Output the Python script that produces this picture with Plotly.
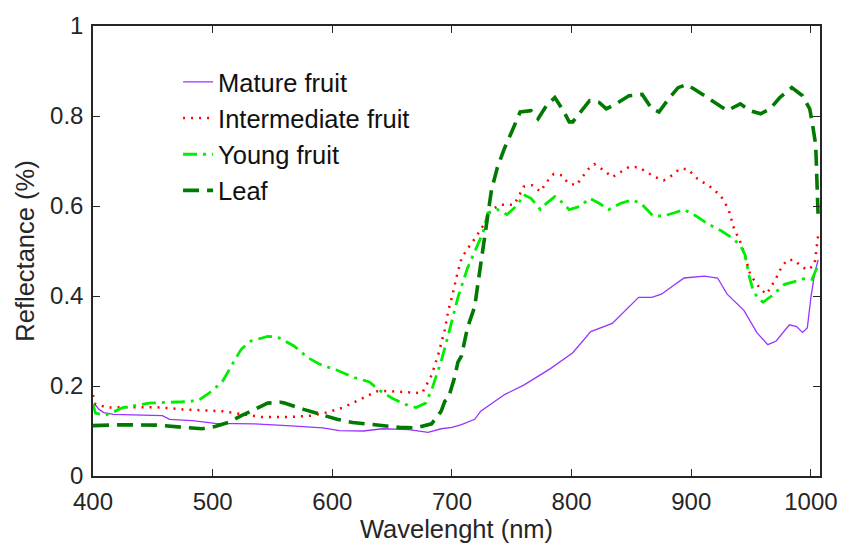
import plotly.graph_objects as go

# ---------------- data ----------------
mature_wl = [400, 402, 405, 409, 417, 440, 458, 464, 483, 502, 535, 562, 592, 606, 626,
             642, 664, 680, 691, 700, 708, 719, 724, 744, 760, 782, 798, 801, 816, 834,
             856, 867, 875, 894, 911, 922, 930, 944, 955, 964, 971, 982, 988, 993, 997,
             1000, 1003, 1006]
mature_val = [0.150, 0.158, 0.148, 0.141, 0.137, 0.135, 0.134, 0.126, 0.123, 0.117, 0.116, 0.112, 0.107, 0.101, 0.100,
              0.105, 0.103, 0.097, 0.105, 0.108, 0.114, 0.126, 0.144, 0.181, 0.202, 0.238, 0.267, 0.274, 0.321, 0.339,
              0.397, 0.397, 0.404, 0.440, 0.444, 0.440, 0.404, 0.368, 0.318, 0.292, 0.300, 0.336, 0.332, 0.319, 0.329,
              0.397, 0.448, 0.480]

inter_wl = [400, 402, 412, 425, 453, 475, 508, 527, 541, 563,
            582, 595, 609, 623, 637, 645, 661, 675, 678, 683,
            689, 694, 697, 700, 704, 708, 713, 719, 726, 733,
            741, 752, 760, 767, 774, 779, 785, 792, 797, 804,
            808, 814, 819, 827, 834, 841, 848, 856, 863, 870,
            877, 884, 890, 897, 905, 911, 918, 925, 929, 932,
            934, 936, 940, 943, 947, 949, 952, 958, 963, 967,
            971, 975, 980, 986, 992, 997, 1003, 1006]
inter_val = [0.180, 0.160, 0.152, 0.153, 0.153, 0.148, 0.144, 0.137, 0.131, 0.131,
             0.134, 0.141, 0.152, 0.170, 0.188, 0.189, 0.186, 0.184, 0.199, 0.224,
             0.274, 0.325, 0.368, 0.397, 0.444, 0.484, 0.505, 0.527, 0.556, 0.592,
             0.603, 0.603, 0.643, 0.646, 0.632, 0.653, 0.671, 0.668, 0.651, 0.646,
             0.661, 0.682, 0.693, 0.679, 0.664, 0.675, 0.687, 0.686, 0.675, 0.664,
             0.657, 0.668, 0.682, 0.682, 0.661, 0.650, 0.639, 0.621, 0.603, 0.585,
             0.565, 0.547, 0.527, 0.505, 0.469, 0.451, 0.437, 0.415, 0.404, 0.422,
             0.440, 0.462, 0.480, 0.480, 0.466, 0.458, 0.469, 0.534]

young_wl = [400, 402, 410, 416, 425, 447, 475, 488, 497, 508,
            519, 524, 532, 546, 554, 568, 579, 589, 604, 617,
            631, 639, 650, 661, 670, 678, 683, 689, 691, 697,
            705, 713, 719, 726, 730, 738, 746, 755, 760, 766,
            774, 779, 786, 793, 798, 807, 815, 823, 831, 841,
            851, 859, 868, 877, 886, 894, 904, 914, 925, 933,
            941, 945, 948, 951, 955, 960, 967, 973, 978, 988,
            996, 1001, 1006]
young_val = [0.160, 0.140, 0.135, 0.141, 0.152, 0.162, 0.165, 0.168, 0.184, 0.209,
             0.260, 0.282, 0.300, 0.310, 0.309, 0.289, 0.264, 0.249, 0.235, 0.220,
             0.209, 0.191, 0.173, 0.159, 0.152, 0.162, 0.191, 0.238, 0.255, 0.314,
             0.397, 0.462, 0.498, 0.541, 0.585, 0.592, 0.581, 0.603, 0.625, 0.617,
             0.592, 0.606, 0.621, 0.606, 0.592, 0.599, 0.617, 0.606, 0.592, 0.606,
             0.614, 0.603, 0.578, 0.578, 0.585, 0.592, 0.578, 0.560, 0.545, 0.531,
             0.513, 0.491, 0.448, 0.419, 0.397, 0.386, 0.400, 0.415, 0.426, 0.433,
             0.440, 0.437, 0.469]

leaf_wl = [400, 425, 453, 472, 491, 502, 513, 524, 535, 546,
           557, 560, 576, 593, 604, 617, 637, 656, 670, 683,
           691, 694, 697, 702, 705, 708, 713, 719, 722, 727,
           733, 738, 744, 750, 757, 766, 772, 779, 786, 793,
           798, 801, 808, 815, 823, 829, 837, 848, 859, 867,
           873, 881, 889, 896, 903, 911, 919, 930, 941, 949,
           958, 966, 974, 984, 993, 999, 1001, 1004, 1006]
leaf_val = [0.112, 0.114, 0.113, 0.108, 0.105, 0.110, 0.119, 0.134, 0.148, 0.162,
            0.164, 0.162, 0.148, 0.134, 0.126, 0.119, 0.114, 0.108, 0.107, 0.116,
            0.144, 0.166, 0.173, 0.217, 0.253, 0.267, 0.330, 0.376, 0.433, 0.520,
            0.635, 0.686, 0.729, 0.765, 0.809, 0.812, 0.794, 0.823, 0.841, 0.812,
            0.787, 0.787, 0.809, 0.834, 0.830, 0.816, 0.827, 0.845, 0.848, 0.816,
            0.809, 0.838, 0.863, 0.870, 0.859, 0.845, 0.830, 0.812, 0.827, 0.812,
            0.805, 0.816, 0.841, 0.863, 0.845, 0.816, 0.787, 0.736, 0.580]

series_names = ["Mature fruit", "Intermediate fruit", "Young fruit", "Leaf"]
x_ticks = [400, 500, 600, 700, 800, 900, 1000]
y_ticks = [0, 0.2, 0.4, 0.6, 0.8, 1]

# ---------------- figure ----------------
FONT = "Liberation Sans, Arial, sans-serif"
AX = "#262626"

fig = go.Figure()
styles = [
    dict(color="#9933FF", width=1.3, dash="solid"),
    dict(color="#FF0000", width=2.5, dash="2px,6px"),
    dict(color="#00EE00", width=2.8, dash="14px,6px,3px,6px"),
    dict(color="#007A00", width=3.6, dash="16px,8px"),
]
for name, xs, ys, st, g in zip(series_names,
                               [mature_wl, inter_wl, young_wl, leaf_wl],
                               [mature_val, inter_val, young_val, leaf_val],
                               styles, ["a", "b", "c", "d"]):
    fig.add_trace(go.Scatter(x=xs, y=ys, mode="lines", name=name, line=st,
                             legendgroup=g))

axis_common = dict(showline=True, linecolor=AX, linewidth=1.5, mirror="ticks",
                   ticks="inside", ticklen=7, tickwidth=1.2, tickcolor=AX,
                   showgrid=False, zeroline=False,
                   tickfont=dict(family=FONT, size=24, color=AX))

fig.update_xaxes(range=[400, 1007.6], tickvals=x_ticks, ticklabelstandoff=3,
                 title=dict(text="Wavelenght (nm)", font=dict(family=FONT, size=25.5, color=AX), standoff=3),
                 **axis_common)
fig.update_yaxes(range=[0, 1], tickvals=y_ticks, ticklabelstandoff=3,
                 title=dict(text="Reflectance (%)", font=dict(family=FONT, size=25.5, color=AX), standoff=8),
                 **axis_common)

fig.update_layout(
    width=849, height=547,
    margin=dict(l=93, r=19, t=15, b=70),
    paper_bgcolor="white", plot_bgcolor="white",
    showlegend=True,
    legend=dict(x=0.117, y=0.927, xanchor="left", yanchor="top",
                bgcolor="rgba(0,0,0,0)", borderwidth=0,
                font=dict(family=FONT, size=25.5, color="#111111"),
                traceorder="grouped", tracegroupgap=0, itemwidth=30),
)

fig.write_html("out.html")
